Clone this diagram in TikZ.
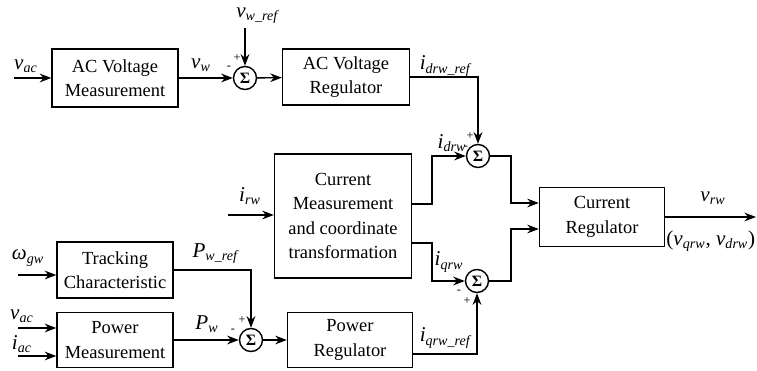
\documentclass[tikz,border=0pt]{standalone}
\usepackage{fontspec}
\setmainfont{Liberation Serif}
\usepackage{tikz}
\usetikzlibrary{arrows.meta, positioning}

\newcommand{\sig}[2]{\textit{#1}\textsubscript{\textit{#2}}}
\tikzset{
  block/.style={draw, thick, align=center, font=\fontsize{10.5}{14}\selectfont},
  summer/.style={draw, thick, circle, minimum size=0.46cm, inner sep=0pt, font=\bfseries\small},
  lbl/.style={font=\fontsize{12}{14}\selectfont, inner sep=1pt},
  sgn/.style={font=\scriptsize, inner sep=0pt}
}

\begin{document}
\begin{tikzpicture}[thick, >=Stealth, x=0.02cm, y=-0.02cm]
        \useasboundingbox (0,0) rectangle (757,371);
        % Blocks
        \node[block, minimum width=2.52cm, minimum height=1.16cm] (acvm) at (115,78) {AC Voltage\\Measurement};
        \node[block, minimum width=2.54cm, minimum height=1.12cm] (acvr) at (346,77) {AC Voltage\\Regulator};
        \node[block, minimum width=2.74cm, minimum height=2.48cm] (curm) at (343,216) {Current\\Measurement\\and coordinate\\transformation};
        \node[block, minimum width=2.5cm, minimum height=1.18cm] (curr) at (602,217) {Current\\Regulator};
        \node[block, minimum width=2.32cm, minimum height=1.12cm] (track) at (115,270) {Tracking\\Characteristic};
        \node[block, minimum width=2.32cm, minimum height=1.1cm] (powm) at (115,340) {Power\\Measurement};
        \node[block, minimum width=2.5cm, minimum height=1.1cm] (powr) at (350,340) {Power\\Regulator};

        % Summing points
        \node[summer] (s1) at (245,78) {Σ};
        \node[summer] (s2) at (478,156) {Σ};
        \node[summer] (s3) at (477,281) {Σ};
        \node[summer] (s4) at (251,340) {Σ};

        % Free ends and bends
        \coordinate (vac) at (14,78);
        \coordinate (vwref) at (245,28);
        \coordinate (irw) at (228,215);
        \coordinate (wgw) at (18,275);
        \coordinate (vac2) at (18,328);
        \coordinate (iac) at (18,356);
        \coordinate (j1) at (432,204);
        \coordinate (j2) at (432,243);
        \coordinate (j3) at (511,203);
        \coordinate (j4) at (511,229);
        \coordinate (iqref) at (477,354);
        \coordinate (vrw) at (756,217);

        % Directed edges
        \draw[->] (vac) -- (vac -| acvm.west);
        \draw[->] (acvm) -- (s1);
        \draw[->] (vwref) -- (s1);
        \draw[->] (s1) -- (acvr);
        \draw[->] (acvr.east) -| (s2);
        \draw[->] (irw) -- (irw -| curm.west);
        \draw[->] (curm.east |- j1) -- (j1) |- (s2);
        \draw[->] (curm.east |- j2) -- (j2) |- (s3);
        \draw[->] (s2) -| (j3) -- (curr.west |- j3);
        \draw[->] (s3) -| (j4) -- (curr.west |- j4);
        \draw[->] (curr) -- (vrw);
        \draw[->] (wgw) -- (wgw -| track.west);
        \draw[->] (vac2) -- (vac2 -| powm.west);
        \draw[->] (iac) -- (iac -| powm.west);
        \draw[->] (track) -| (s4);
        \draw[->] (powm) -- (s4);
        \draw[->] (s4) -- (powr);
        \draw[->] (powr.east |- iqref) -| (s3);

        % Labels
        \node[lbl] at (26,66) {\sig{v}{ac}};
        \node[lbl] at (201,65) {\sig{v}{w}};
        \node[lbl] at (258,16) {\sig{v}{w\_ref}};
        \node[lbl] at (446,66) {\sig{i}{drw\_ref}};
        \node[lbl] at (250,196) {\sig{i}{rw}};
        \node[lbl] at (452,143) {\sig{i}{drw}};
        \node[lbl] at (449,262) {\sig{i}{qrw}};
        \node[lbl] at (713,198) {\sig{v}{rw}};
        \node[lbl, anchor=west] at (664,241) {(\sig{v}{qrw}, \sig{v}{drw})};
        \node[lbl] at (28,258) {\sig{ω}{gw}};
        \node[lbl] at (216,254) {\sig{P}{w\_ref}};
        \node[lbl] at (22,316) {\sig{v}{ac}};
        \node[lbl] at (22,344) {\sig{i}{ac}};
        \node[lbl] at (207,324) {\sig{P}{w}};
        \node[lbl] at (446,338) {\sig{i}{qrw\_ref}};

        % Signs
        \node[sgn] at (229,68) {-};
        \node[sgn] at (237,58) {+};
        \node[sgn] at (466,148) {-};
        \node[sgn] at (470,136) {+};
        \node[sgn] at (459,292) {-};
        \node[sgn] at (467,301) {+};
        \node[sgn] at (233,331) {-};
        \node[sgn] at (242,320) {+};
    \end{tikzpicture}
\end{document}
